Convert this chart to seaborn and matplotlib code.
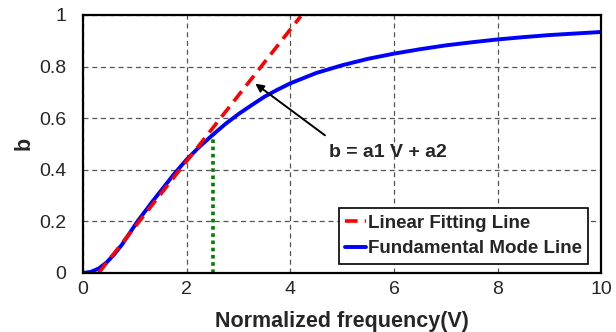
import numpy as np
import pandas as pd
import matplotlib
matplotlib.use("Agg")
import matplotlib.pyplot as plt
import seaborn as sns

# Curva do modo fundamental
mode_v = [0, 0.15, 0.3, 0.45, 0.6, 0.75, 0.9, 1.05, 1.2, 1.35, 1.5, 1.75, 2.0,
          2.25, 2.5, 2.75, 3.0, 3.25, 3.5, 3.75, 4.0, 4.5, 5.0, 5.5, 6.0, 6.5,
          7.0, 7.5, 8.0, 8.5, 9.0, 9.5, 10.0]
mode_b = [0, 0.004, 0.017, 0.04, 0.072, 0.11, 0.155, 0.2, 0.24, 0.28, 0.318,
          0.382, 0.44, 0.49, 0.535, 0.578, 0.616, 0.65, 0.683, 0.71, 0.735,
          0.775, 0.805, 0.83, 0.85, 0.867, 0.882, 0.894, 0.905, 0.914, 0.922,
          0.928, 0.934]

# Reta de ajuste linear b = a1 V + a2
fit_v = [0.3, 4.2]
fit_b = [0.0, 0.995]

# Linha vertical verde
cut_v = [2.5, 2.5]
cut_b = [0.0, 0.535]

sns.set_style("white")
plt.rcParams["font.family"] = ["Liberation Sans", "DejaVu Sans"]

df_mode = pd.DataFrame({"V": mode_v, "b": mode_b})
df_fit = pd.DataFrame({"V": fit_v, "b": fit_b})
df_cut = pd.DataFrame({"V": cut_v, "b": cut_b})

fig, ax = plt.subplots(figsize=(6.16, 3.32), dpi=100)
fig.subplots_adjust(left=0.135, right=0.976, top=0.955, bottom=0.178)

sns.lineplot(data=df_cut, x="V", y="b", ax=ax, color="#008000", lw=2.6,
             linestyle=(0, (1, 1)), sort=False, estimator=None)
sns.lineplot(data=df_mode, x="V", y="b", ax=ax, color="#0000ff", lw=2.8,
             label="Fundamental Mode Line", sort=False, estimator=None)
sns.lineplot(data=df_fit, x="V", y="b", ax=ax, color="#ff0000", lw=2.6,
             linestyle=(0, (3.5, 2)), label="Linear Fitting Line", sort=False,
             estimator=None)

ax.set_xlim(0, 10)
ax.set_ylim(0, 1)
ax.set_xticks([0, 2, 4, 6, 8, 10])
ax.set_yticks([0, 0.2, 0.4, 0.6, 0.8, 1.0])
ax.set_yticklabels(["0", "0.2", "0.4", "0.6", "0.8", "1"])
ax.tick_params(length=0, labelsize=14)
ax.tick_params(axis="x", pad=6)
ax.tick_params(axis="y", pad=12)
ax.grid(True, color="#555555", linestyle=(0, (4, 3)), lw=0.9)
ax.set_axisbelow(True)
for sp in ax.spines.values():
    sp.set_color("black")
    sp.set_linewidth(1.6)

ax.set_xlabel("Normalized frequency(V)", fontsize=15.5, fontweight="bold", labelpad=9)
ax.set_ylabel("b", fontsize=15.5, fontweight="bold", labelpad=3)

ax.annotate("", xy=(3.28, 0.74), xytext=(4.71, 0.527),
            arrowprops=dict(arrowstyle="-|>", color="black", lw=1.4,
                            mutation_scale=12))
ax.text(4.75, 0.465, "b = a1 V + a2", fontsize=14, fontweight="bold",
        va="center", ha="left")

handles, labels = ax.get_legend_handles_labels()
leg = ax.legend(handles[::-1], labels[::-1], loc="lower right",
                bbox_to_anchor=(0.975, 0.035),
                prop={"weight": "bold", "size": 13.5}, handlelength=1.1,
                handletextpad=0.1, borderpad=0.35, labelspacing=0.45,
                frameon=True, fancybox=False, borderaxespad=0, framealpha=1)
leg.get_frame().set_edgecolor("black")
leg.get_frame().set_linewidth(1.2)

plt.savefig("out.png", dpi=100)
